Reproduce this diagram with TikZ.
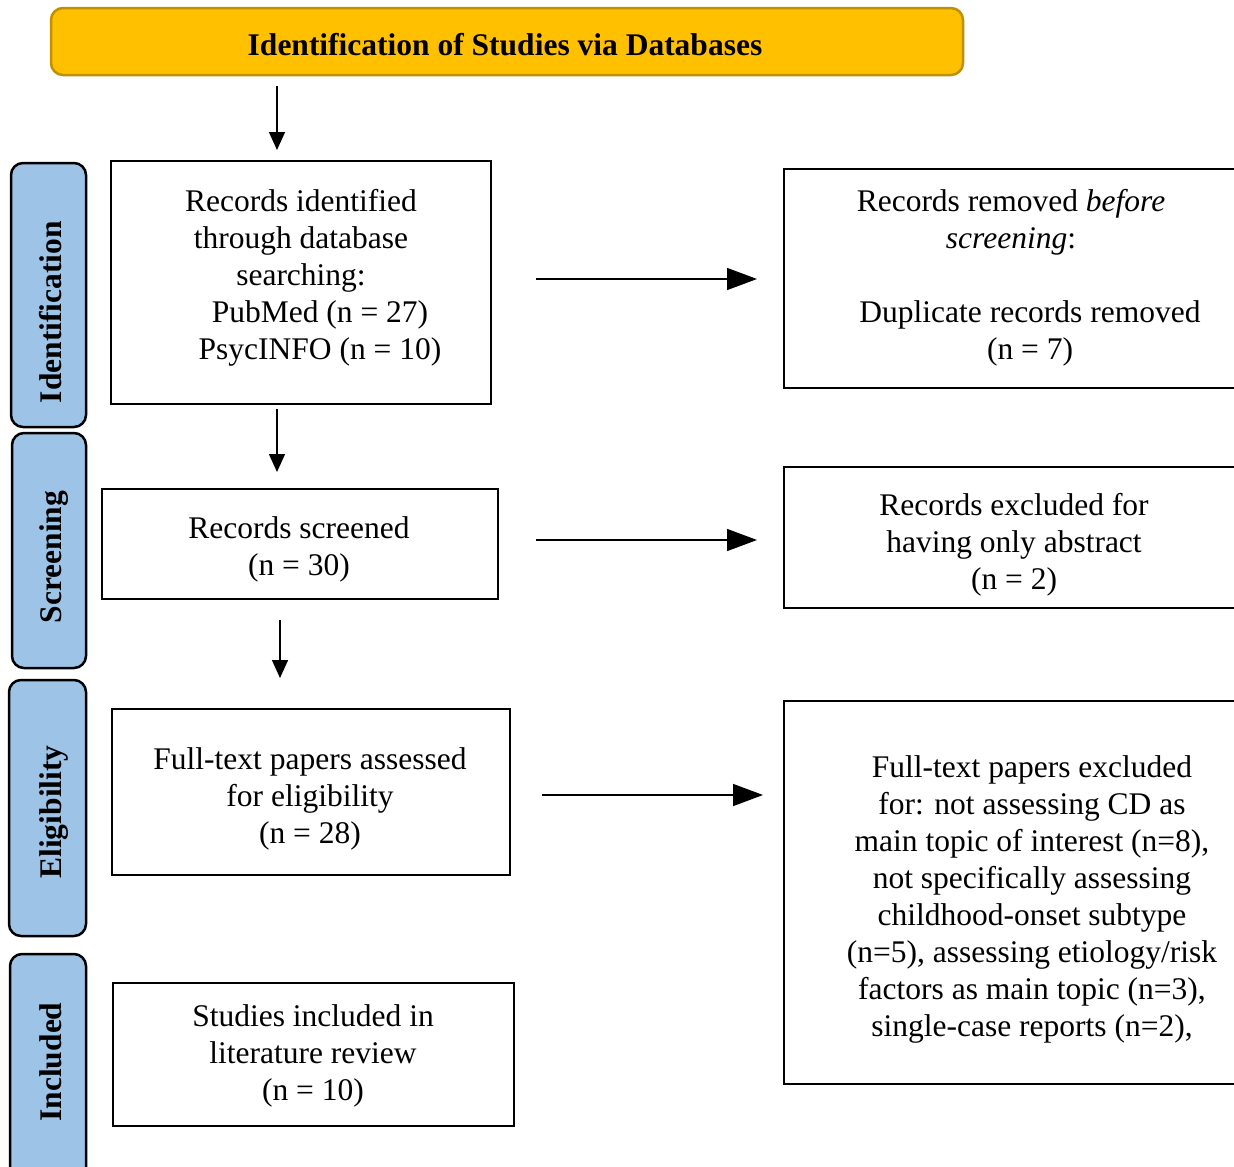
\documentclass[tikz,border=0pt]{standalone}
\usepackage{fontspec}
\setmainfont{Liberation Serif}
\usetikzlibrary{arrows.meta}
\definecolor{sideblue}{HTML}{9DC3E6}
\definecolor{gold}{HTML}{FFC000}
\definecolor{golddraw}{HTML}{BF9000}
\tikzset{
  flowbox/.style={draw, line width=2.5pt, rectangle, inner sep=0pt, outer sep=0pt},
  sidebox/.style={draw, line width=2.5pt, fill=sideblue, rounded corners=12pt, inner sep=0pt, outer sep=0pt},
  bannerbox/.style={draw=golddraw, line width=2.5pt, fill=gold, rounded corners=12pt, inner sep=0pt, outer sep=0pt},
  txt/.style={font=\fontsize{31.5}{37}\selectfont, align=center, inner sep=0pt},
  sidetxt/.style={font=\fontsize{31.5}{37}\selectfont\bfseries, rotate=90, inner sep=0pt, text height=21pt, text depth=0pt},
  varr/.style={line width=1.5pt, -{Triangle[length=18pt,width=16pt]}},
  harr/.style={line width=1.5pt, -{Triangle[length=30pt,width=22pt]}}
}
\begin{document}
\begin{tikzpicture}[x=1pt,y=-1pt]
\useasboundingbox (0,0) rectangle (1234,1167);
\clip (0,0) rectangle (1234,1167);

% banner
\node[bannerbox, minimum width=912pt, minimum height=67pt] (banner) at (507,41.5) {};
\node[txt, font=\fontsize{31.5}{37}\selectfont\bfseries] (bannert) at (505,45) {Identification of Studies via Databases};

% side labels
\node[sidebox, minimum width=75pt, minimum height=264pt] (s1) at (48.5,295) {};
\node[sidetxt] (s1t) at (50.5,312) {Identification};
\node[sidebox, minimum width=74pt, minimum height=235pt] (s2) at (49,550.5) {};
\node[sidetxt] (s2t) at (50.5,557) {Screening};
\node[sidebox, minimum width=77pt, minimum height=256pt] (s3) at (47.5,808) {};
\node[sidetxt] (s3t) at (50.5,812) {Eligibility};
\node[sidebox, minimum width=76pt, minimum height=226pt] (s4) at (48,1067) {};
\node[sidetxt] (s4t) at (50.5,1062) {Included};

% left column boxes
\node[flowbox, minimum width=380pt, minimum height=243pt] (b1) at (301,282.5) {};
\node[txt] (b1t) at (301,277.5) {Records identified\\through database\\searching:\\\hspace*{38pt}PubMed (n = 27)\\\hspace*{38pt}PsycINFO (n = 10)};

\node[flowbox, minimum width=396pt, minimum height=110pt] (b2) at (300,544) {};
\node[txt] (b2t) at (299,549.5) {Records screened\\(n = 30)};

\node[flowbox, minimum width=398pt, minimum height=166pt] (b3) at (311,792) {};
\node[txt] (b3t) at (310,798.5) {Full-text papers assessed\\for eligibility\\(n = 28)};

\node[flowbox, minimum width=401pt, minimum height=143pt] (b4) at (313.5,1054.5) {};
\node[txt] (b4t) at (313,1055.5) {Studies included in\\literature review\\(n = 10)};

% right column boxes
\node[flowbox, minimum width=492pt, minimum height=219pt] (r1) at (1030,278.5) {};
\node[txt] (r1t) at (1030,278) {Records removed \textit{before}\hspace*{38pt}\mbox{}\\\textit{screening}:\hspace*{38pt}\mbox{}\\\mbox{}\\Duplicate records removed\\(n = 7)};

\node[flowbox, minimum width=492pt, minimum height=141pt] (r2) at (1030,537.5) {};
\node[txt] (r2t) at (1014,544.5) {Records excluded for\\having only abstract\\(n = 2)};

\node[flowbox, minimum width=492pt, minimum height=383pt] (r3) at (1030,892.5) {};
\node[txt] (r3t) at (1032,899.5) {Full-text papers excluded\\for: not assessing CD as\\main topic of interest (n=8),\\not specifically assessing\\childhood-onset subtype\\(n=5), assessing etiology/risk\\factors as main topic (n=3),\\single-case reports (n=2),};

% vertical arrows
\draw[varr] ([xshift=-230pt,yshift=-11pt]banner.south) -- ([xshift=-24pt,yshift=11pt]b1.north);
\draw[varr] ([xshift=-24pt,yshift=-5pt]b1.south) -- ([xshift=-23pt,yshift=17pt]b2.north);
\draw[varr] ([xshift=-20pt,yshift=-21pt]b2.south) -- ([xshift=-31pt,yshift=31pt]b3.north);

% horizontal arrows
\draw[harr, shorten >=27pt] ([xshift=45pt,yshift=3.5pt]b1.east) coordinate (h1s) -- (h1s -| r1.west);
\draw[harr, shorten >=27pt] ([xshift=38pt,yshift=4pt]b2.east) coordinate (h2s) -- (h2s -| r2.west);
\draw[harr, shorten >=21pt] ([xshift=32pt,yshift=-3pt]b3.east) coordinate (h3s) -- (h3s -| r3.west);
\end{tikzpicture}
\end{document}
